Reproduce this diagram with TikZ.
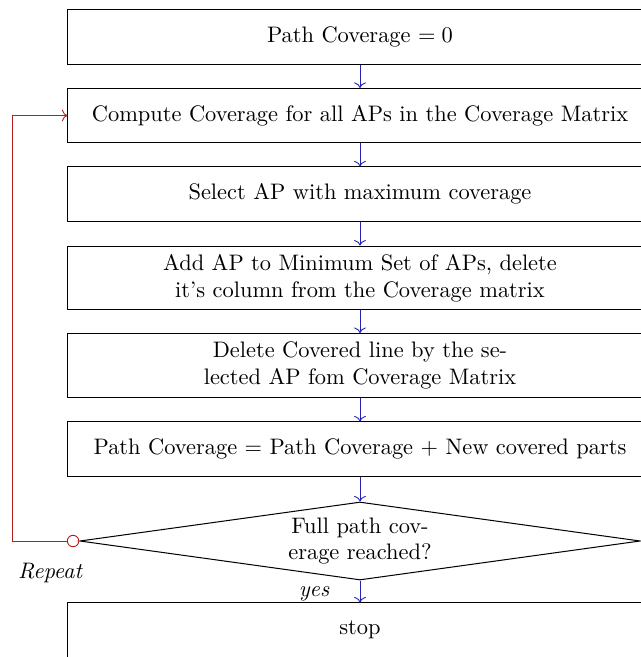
\documentclass[tikz,border=0pt]{standalone}
\usetikzlibrary{shapes.geometric,arrows.meta}
\definecolor{flowblue}{RGB}{35,35,175}
\definecolor{loopred}{RGB}{180,30,30}
\begin{document}
\begin{tikzpicture}[x=0.446pt,y=-0.446pt,
  every node/.style={line width=0.45pt},
  stepbox/.style={draw,minimum width=260.5pt,minimum height=24.1pt,align=center,inner sep=0pt},
  tallbox/.style={stepbox,minimum height=28.5pt},
  decision/.style={draw,diamond,aspect=7.2,align=center,inner sep=0pt,minimum width=250pt,minimum height=34.8pt},
  flow/.style={draw=flowblue,->},
  loop/.style={draw=loopred,{Circle[open,length=5.5pt,width=5.5pt]}->}]
\useasboundingbox (0,0) rectangle (641,657);
\begin{scope}
\clip (0,0) rectangle (641,657);
\node[stepbox] (b1) at (360,37) {Path Coverage $=0$};
\node[stepbox] (b2) at (360,115.5) {Compute Coverage for all APs in the Coverage Matrix};
\node[stepbox] (b3) at (360,194) {Select AP with maximum coverage};
\node[tallbox] (b4) at (360,278) {Add AP to Minimum Set of APs, delete\\it's column from the Coverage matrix};
\node[tallbox] (b5) at (360,365.5) {Delete Covered line by the se-\\lected AP fom Coverage Matrix};
\node[stepbox] (b6) at (360,449) {Path Coverage $=$ Path Coverage $+$ New covered parts};
\node[decision] (d) at (360,541) {Full path cov-\\erage reached?};
\node[stepbox] (b7) at (360,630) {stop};
\coordinate (c1) at (12,541);
\coordinate (c2) at (12,115.5);
\draw[flow] (b1) -- (b2);
\draw[flow] (b2) -- (b3);
\draw[flow] (b3) -- (b4);
\draw[flow] (b4) -- (b5);
\draw[flow] (b5) -- (b6);
\draw[flow] (b6) -- (d);
\draw[flow] (d) -- node[pos=0.6,left,font=\itshape,inner sep=0pt,xshift=-13.5pt] {yes} (b7);
\draw[loop] (d.west) -- (c1) -- (c2) -- (b2.west);
\node[font=\itshape] (rep) at (50,573) {Repeat};
\end{scope}
\end{tikzpicture}
\end{document}
